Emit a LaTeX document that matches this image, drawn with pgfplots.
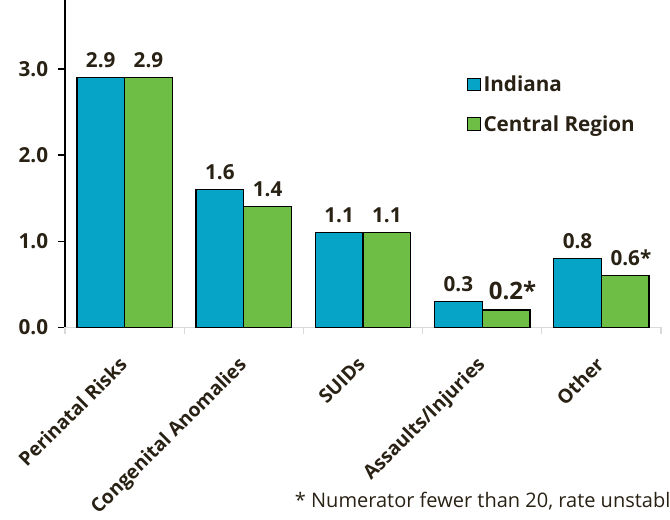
\documentclass[border=0pt]{standalone}
\usepackage{fontspec}
\setmainfont{Open Sans}
\usepackage{pgfplots}
\pgfplotsset{compat=1.18}
\definecolor{txt}{RGB}{40,33,20}
\definecolor{barblue}{RGB}{6,165,199}
\definecolor{bargreen}{RGB}{110,190,70}
\definecolor{axgray}{RGB}{217,217,217}
\begin{document}
\begin{tikzpicture}[x=1pt,y=1pt]
\useasboundingbox (0,0) rectangle (502.5,390);
\begin{axis}[
  at={(48.75pt,144.5pt)}, anchor=south west,
  scale only axis, width=447pt, height=245.5pt,
  xmin=-0.5, xmax=4.5, ymin=0, ymax=3.8,
  ybar=0pt, bar width=35.8pt,
  axis x line*=bottom, axis y line*=left,
  axis line style={-},
  x axis line style={draw=axgray, line width=1pt},
  y axis line style={draw=black, line width=1pt},
  tick align=outside, major tick length=5pt,
  ytick={0,1,2,3},
  y tick style={black, line width=1pt},
  yticklabel style={font=\bfseries\fontsize{15.5}{18}\selectfont, text=txt, anchor=east, inner sep=0pt, xshift=-7.5pt,
    /pgf/number format/.cd, fixed, fixed zerofill, precision=1, assume math mode=true},
  xtick={0,1,2,3,4},
  xticklabels={Perinatal Risks,Congenital Anomalies,SUIDs,Assaults/Injuries,Other},
  x tick style={draw=none},
  xticklabel style={font=\bfseries\fontsize{14.5}{17}\selectfont, text=txt, inner sep=0pt, xshift=-5pt, yshift=-16pt, rotate=45, anchor=north east},
  extra x ticks={-0.5,0.5,1.5,2.5,3.5,4.5},
  extra x tick labels={},
  extra x tick style={x tick style={draw=axgray, line width=1pt}},
  point meta=explicit symbolic,
  nodes near coords,
  every node near coord/.append style={font=\bfseries\fontsize{15.5}{18}\selectfont, text=txt, anchor=south, inner sep=0pt, yshift=7pt},
  legend style={at={(0.674,0.778)}, anchor=north west, draw=none, fill=none, inner sep=0pt,
    row sep=12.5pt, font=\bfseries\fontsize{15.5}{18}\selectfont, text=txt,
    nodes={inner sep=2pt}},
  legend cell align=left,
  legend image code/.code={\draw[#1, line width=0.9pt] (0pt,-4.7pt) rectangle (9.5pt,4.7pt);},
]
\addplot[fill=barblue, draw=black, line width=1pt] coordinates {(0,2.9)[2.9] (1,1.6)[1.6] (2,1.1)[1.1] (3,0.3)[0.3] (4,0.8)[0.8]};
\addlegendentry{Indiana}
\addplot[fill=bargreen, draw=black, line width=1pt] coordinates {(0,2.9)[2.9] (1,1.4)[1.4] (2,1.1)[1.1] (3,0.2)[{\fontsize{18}{20}\selectfont 0.2\rlap{*}}] (4,0.6)[{0.6\rlap{*}}]};
\addlegendentry{Central Region}
\end{axis}
\node[anchor=base west, font=\fontsize{15}{17}\selectfont, text=txt, inner sep=0pt] at (221,9) {* Numerator fewer than 20, rate unstable};
\end{tikzpicture}
\end{document}
